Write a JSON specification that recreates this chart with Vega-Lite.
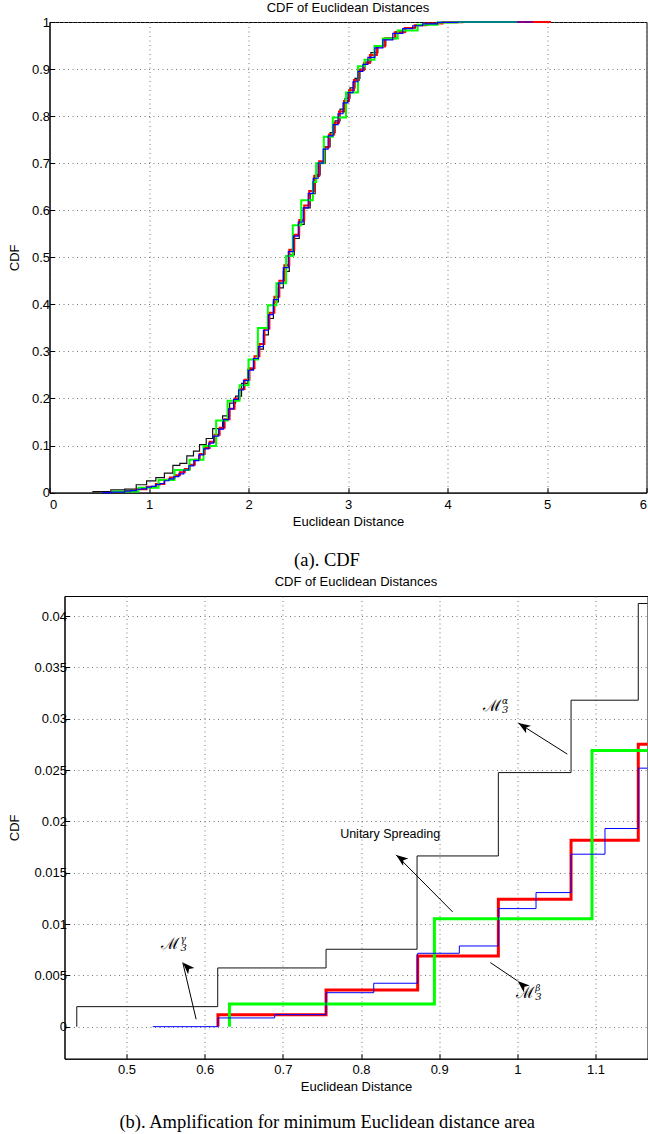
{
  "$schema": "https://vega.github.io/schema/vega-lite/v6.json",
  "background": "white",
  "padding": {"left": 6.5, "top": 1, "right": 0, "bottom": 0},
  "spacing": 5,
  "columns": 1,
  "align": "none",
  "datasets": {
    "cdf": [
      {"s": "alpha", "x": 0.4364, "y": 0},
      {"s": "alpha", "x": 0.4364, "y": 0.00195},
      {"s": "alpha", "x": 0.6167, "y": 0.00572},
      {"s": "alpha", "x": 0.7553, "y": 0.00754},
      {"s": "alpha", "x": 0.8717, "y": 0.01663},
      {"s": "alpha", "x": 0.9757, "y": 0.02475},
      {"s": "alpha", "x": 1.0687, "y": 0.0318},
      {"s": "alpha", "x": 1.1547, "y": 0.04122},
      {"s": "alpha", "x": 1.24, "y": 0.058},
      {"s": "alpha", "x": 1.31, "y": 0.062},
      {"s": "alpha", "x": 1.38, "y": 0.078},
      {"s": "alpha", "x": 1.447, "y": 0.088},
      {"s": "alpha", "x": 1.508, "y": 0.102},
      {"s": "alpha", "x": 1.575, "y": 0.115},
      {"s": "alpha", "x": 1.64, "y": 0.136},
      {"s": "alpha", "x": 1.74, "y": 0.163},
      {"s": "alpha", "x": 1.81, "y": 0.19},
      {"s": "alpha", "x": 1.87, "y": 0.205},
      {"s": "alpha", "x": 1.93, "y": 0.232},
      {"s": "alpha", "x": 1.993, "y": 0.262},
      {"s": "alpha", "x": 2.05, "y": 0.283},
      {"s": "alpha", "x": 2.1, "y": 0.305},
      {"s": "alpha", "x": 2.15, "y": 0.335},
      {"s": "alpha", "x": 2.2, "y": 0.37},
      {"s": "alpha", "x": 2.25, "y": 0.405},
      {"s": "alpha", "x": 2.3, "y": 0.435},
      {"s": "alpha", "x": 2.35, "y": 0.47},
      {"s": "alpha", "x": 2.41, "y": 0.505},
      {"s": "alpha", "x": 2.46, "y": 0.54},
      {"s": "alpha", "x": 2.51, "y": 0.57},
      {"s": "alpha", "x": 2.56, "y": 0.605},
      {"s": "alpha", "x": 2.62, "y": 0.635},
      {"s": "alpha", "x": 2.67, "y": 0.675},
      {"s": "alpha", "x": 2.72, "y": 0.7},
      {"s": "alpha", "x": 2.77, "y": 0.735},
      {"s": "alpha", "x": 2.82, "y": 0.765},
      {"s": "alpha", "x": 2.87, "y": 0.79},
      {"s": "alpha", "x": 2.92, "y": 0.815},
      {"s": "alpha", "x": 2.97, "y": 0.838},
      {"s": "alpha", "x": 3.02, "y": 0.86},
      {"s": "alpha", "x": 3.07, "y": 0.88},
      {"s": "alpha", "x": 3.12, "y": 0.9},
      {"s": "alpha", "x": 3.17, "y": 0.915},
      {"s": "alpha", "x": 3.23, "y": 0.935},
      {"s": "alpha", "x": 3.3, "y": 0.95},
      {"s": "alpha", "x": 3.38, "y": 0.966},
      {"s": "alpha", "x": 3.48, "y": 0.979},
      {"s": "alpha", "x": 3.58, "y": 0.988},
      {"s": "alpha", "x": 3.68, "y": 0.993},
      {"s": "alpha", "x": 3.8, "y": 0.997},
      {"s": "alpha", "x": 3.95, "y": 0.9995},
      {"s": "alpha", "x": 4.15, "y": 1.0},
      {"s": "alpha", "x": 4.6, "y": 1.0},

      {"s": "beta", "x": 0.617, "y": 0},
      {"s": "beta", "x": 0.617, "y": 0.00117},
      {"s": "beta", "x": 0.7553, "y": 0.00357},
      {"s": "beta", "x": 0.8725, "y": 0.00689},
      {"s": "beta", "x": 0.9757, "y": 0.01241},
      {"s": "beta", "x": 1.0687, "y": 0.01816},
      {"s": "beta", "x": 1.1547, "y": 0.02752},
      {"s": "beta", "x": 1.21, "y": 0.032},
      {"s": "beta", "x": 1.26, "y": 0.037},
      {"s": "beta", "x": 1.31, "y": 0.043},
      {"s": "beta", "x": 1.36, "y": 0.05},
      {"s": "beta", "x": 1.41, "y": 0.059},
      {"s": "beta", "x": 1.46, "y": 0.07},
      {"s": "beta", "x": 1.51, "y": 0.082},
      {"s": "beta", "x": 1.56, "y": 0.095},
      {"s": "beta", "x": 1.61, "y": 0.108},
      {"s": "beta", "x": 1.66, "y": 0.123},
      {"s": "beta", "x": 1.71, "y": 0.138},
      {"s": "beta", "x": 1.76, "y": 0.156},
      {"s": "beta", "x": 1.81, "y": 0.178},
      {"s": "beta", "x": 1.86, "y": 0.2},
      {"s": "beta", "x": 1.91, "y": 0.22},
      {"s": "beta", "x": 1.96, "y": 0.24},
      {"s": "beta", "x": 2.01, "y": 0.264},
      {"s": "beta", "x": 2.06, "y": 0.29},
      {"s": "beta", "x": 2.11, "y": 0.316},
      {"s": "beta", "x": 2.16, "y": 0.348},
      {"s": "beta", "x": 2.21, "y": 0.382},
      {"s": "beta", "x": 2.26, "y": 0.416},
      {"s": "beta", "x": 2.31, "y": 0.45},
      {"s": "beta", "x": 2.36, "y": 0.483},
      {"s": "beta", "x": 2.41, "y": 0.516},
      {"s": "beta", "x": 2.46, "y": 0.548},
      {"s": "beta", "x": 2.51, "y": 0.579},
      {"s": "beta", "x": 2.56, "y": 0.61},
      {"s": "beta", "x": 2.61, "y": 0.641},
      {"s": "beta", "x": 2.66, "y": 0.673},
      {"s": "beta", "x": 2.71, "y": 0.704},
      {"s": "beta", "x": 2.76, "y": 0.734},
      {"s": "beta", "x": 2.81, "y": 0.761},
      {"s": "beta", "x": 2.86, "y": 0.786},
      {"s": "beta", "x": 2.91, "y": 0.81},
      {"s": "beta", "x": 2.96, "y": 0.832},
      {"s": "beta", "x": 3.01, "y": 0.855},
      {"s": "beta", "x": 3.06, "y": 0.877},
      {"s": "beta", "x": 3.11, "y": 0.898},
      {"s": "beta", "x": 3.16, "y": 0.913},
      {"s": "beta", "x": 3.22, "y": 0.93},
      {"s": "beta", "x": 3.29, "y": 0.948},
      {"s": "beta", "x": 3.37, "y": 0.965},
      {"s": "beta", "x": 3.47, "y": 0.978},
      {"s": "beta", "x": 3.57, "y": 0.987},
      {"s": "beta", "x": 3.67, "y": 0.993},
      {"s": "beta", "x": 3.78, "y": 0.997},
      {"s": "beta", "x": 3.95, "y": 0.9995},
      {"s": "beta", "x": 4.15, "y": 1.0},
      {"s": "beta", "x": 5.04, "y": 1.0},

      {"s": "unitary", "x": 0.6317, "y": 0},
      {"s": "unitary", "x": 0.6317, "y": 0.0022},
      {"s": "unitary", "x": 0.8939, "y": 0.0105},
      {"s": "unitary", "x": 1.0955, "y": 0.0269},
      {"s": "unitary", "x": 1.256, "y": 0.048},
      {"s": "unitary", "x": 1.407, "y": 0.07},
      {"s": "unitary", "x": 1.548, "y": 0.099},
      {"s": "unitary", "x": 1.675, "y": 0.153},
      {"s": "unitary", "x": 1.79, "y": 0.195},
      {"s": "unitary", "x": 1.91, "y": 0.228},
      {"s": "unitary", "x": 2.0, "y": 0.283},
      {"s": "unitary", "x": 2.094, "y": 0.35},
      {"s": "unitary", "x": 2.194, "y": 0.398},
      {"s": "unitary", "x": 2.28, "y": 0.445},
      {"s": "unitary", "x": 2.378, "y": 0.503},
      {"s": "unitary", "x": 2.445, "y": 0.568},
      {"s": "unitary", "x": 2.53, "y": 0.621},
      {"s": "unitary", "x": 2.647, "y": 0.66},
      {"s": "unitary", "x": 2.68, "y": 0.7},
      {"s": "unitary", "x": 2.757, "y": 0.756},
      {"s": "unitary", "x": 2.847, "y": 0.797},
      {"s": "unitary", "x": 2.98, "y": 0.85},
      {"s": "unitary", "x": 3.1, "y": 0.906},
      {"s": "unitary", "x": 3.166, "y": 0.92},
      {"s": "unitary", "x": 3.266, "y": 0.949},
      {"s": "unitary", "x": 3.35, "y": 0.965},
      {"s": "unitary", "x": 3.5, "y": 0.982},
      {"s": "unitary", "x": 3.7, "y": 0.994},
      {"s": "unitary", "x": 3.9, "y": 0.999},
      {"s": "unitary", "x": 4.1, "y": 1.0},
      {"s": "unitary", "x": 4.7, "y": 1.0},

      {"s": "gamma", "x": 0.5336, "y": 0},
      {"s": "gamma", "x": 0.617, "y": 0.00085},
      {"s": "gamma", "x": 0.6896, "y": 0.00117},
      {"s": "gamma", "x": 0.7553, "y": 0.00331},
      {"s": "gamma", "x": 0.8163, "y": 0.00423},
      {"s": "gamma", "x": 0.8725, "y": 0.00715},
      {"s": "gamma", "x": 0.9258, "y": 0.00786},
      {"s": "gamma", "x": 0.9757, "y": 0.0115},
      {"s": "gamma", "x": 1.0239, "y": 0.01306},
      {"s": "gamma", "x": 1.0687, "y": 0.0168},
      {"s": "gamma", "x": 1.1121, "y": 0.0193},
      {"s": "gamma", "x": 1.1547, "y": 0.02518},
      {"s": "gamma", "x": 1.2, "y": 0.029},
      {"s": "gamma", "x": 1.25, "y": 0.034},
      {"s": "gamma", "x": 1.3, "y": 0.04},
      {"s": "gamma", "x": 1.35, "y": 0.048},
      {"s": "gamma", "x": 1.4, "y": 0.057},
      {"s": "gamma", "x": 1.45, "y": 0.068},
      {"s": "gamma", "x": 1.5, "y": 0.08},
      {"s": "gamma", "x": 1.55, "y": 0.093},
      {"s": "gamma", "x": 1.6, "y": 0.105},
      {"s": "gamma", "x": 1.65, "y": 0.12},
      {"s": "gamma", "x": 1.7, "y": 0.135},
      {"s": "gamma", "x": 1.75, "y": 0.155},
      {"s": "gamma", "x": 1.8, "y": 0.178},
      {"s": "gamma", "x": 1.85, "y": 0.198},
      {"s": "gamma", "x": 1.9, "y": 0.218},
      {"s": "gamma", "x": 1.95, "y": 0.238},
      {"s": "gamma", "x": 2.0, "y": 0.26},
      {"s": "gamma", "x": 2.05, "y": 0.285},
      {"s": "gamma", "x": 2.1, "y": 0.31},
      {"s": "gamma", "x": 2.15, "y": 0.345},
      {"s": "gamma", "x": 2.2, "y": 0.378},
      {"s": "gamma", "x": 2.25, "y": 0.41},
      {"s": "gamma", "x": 2.3, "y": 0.445},
      {"s": "gamma", "x": 2.35, "y": 0.478},
      {"s": "gamma", "x": 2.4, "y": 0.512},
      {"s": "gamma", "x": 2.45, "y": 0.545},
      {"s": "gamma", "x": 2.5, "y": 0.575},
      {"s": "gamma", "x": 2.55, "y": 0.605},
      {"s": "gamma", "x": 2.6, "y": 0.636},
      {"s": "gamma", "x": 2.65, "y": 0.668},
      {"s": "gamma", "x": 2.7, "y": 0.7},
      {"s": "gamma", "x": 2.75, "y": 0.73},
      {"s": "gamma", "x": 2.8, "y": 0.758},
      {"s": "gamma", "x": 2.85, "y": 0.782},
      {"s": "gamma", "x": 2.9, "y": 0.805},
      {"s": "gamma", "x": 2.95, "y": 0.828},
      {"s": "gamma", "x": 3.0, "y": 0.85},
      {"s": "gamma", "x": 3.05, "y": 0.873},
      {"s": "gamma", "x": 3.1, "y": 0.895},
      {"s": "gamma", "x": 3.15, "y": 0.91},
      {"s": "gamma", "x": 3.2, "y": 0.925},
      {"s": "gamma", "x": 3.27, "y": 0.945},
      {"s": "gamma", "x": 3.35, "y": 0.962},
      {"s": "gamma", "x": 3.45, "y": 0.976},
      {"s": "gamma", "x": 3.55, "y": 0.986},
      {"s": "gamma", "x": 3.65, "y": 0.992},
      {"s": "gamma", "x": 3.75, "y": 0.996},
      {"s": "gamma", "x": 3.9, "y": 0.999},
      {"s": "gamma", "x": 4.1, "y": 1.0},
      {"s": "gamma", "x": 4.86, "y": 1.0}
    ],
    "symbols": [
      {"k": "alpha", "x": 0.9791, "y": 0.03125, "t": "ℳ", "sup": "α", "sub": "3"},
      {"k": "beta", "x": 1.0217, "y": 0.003235, "t": "ℳ", "sup": "β", "sub": "3"},
      {"k": "gamma", "x": 0.5678, "y": 0.00803, "t": "ℳ", "sup": "γ", "sub": "3"}
    ],
    "labels": [
      {"x": 0.8373, "y": 0.01881, "t": "Unitary Spreading"}
    ],
    "arrows": [
      {"k": "alpha", "x": 1.0013, "y": 0.02957, "xt": 1.0639, "yt": 0.02655},
      {"k": "unitary", "x": 0.8449, "y": 0.01673, "xt": 0.9172, "yt": 0.01118},
      {"k": "beta", "x": 1.0004, "y": 0.00445, "xt": 0.9655, "yt": 0.00624},
      {"k": "gamma", "x": 0.572, "y": 0.00624, "xt": 0.5891, "yt": 0.00072}
    ],
    "none": []
  },
  "concat": [
    {
      "title": {"text": "(a). CDF", "orient": "bottom", "font": "Liberation Serif", "fontSize": 18.5, "fontWeight": "normal", "offset": 22, "anchor": "middle"},
      "spacing": 0,
      "hconcat": [
        {
          "width": 1, "height": 1,
          "data": {"name": "none"},
          "mark": {"type": "point", "opacity": 0},
          "view": {"stroke": null}
        },
        {
          "width": 597,
          "height": 470.6,
          "title": {"text": "CDF of Euclidean Distances", "offset": 1},
          "encoding": {
            "x": {"field": "x", "type": "quantitative", "scale": {"domain": [0, 6], "nice": false, "zero": false},
                  "axis": {"values": [0, 1, 2, 3, 4, 5, 6], "format": "~g", "title": "Euclidean Distance", "labelPadding": 10.5, "titlePadding": 4}},
            "y": {"field": "y", "type": "quantitative", "scale": {"domain": [0, 1], "nice": false, "zero": false},
                  "axis": {"values": [0, 0.1, 0.2, 0.3, 0.4, 0.5, 0.6, 0.7, 0.8, 0.9, 1], "format": "~g", "title": "CDF", "labelPadding": 5, "titlePadding": 9.5, "minExtent": 0}}
          },
          "layer": [
            {"data": {"name": "cdf"}, "transform": [{"filter": "datum.s === 'alpha'"}],
             "mark": {"type": "line", "interpolate": "step-after", "color": "#111111", "strokeWidth": 1.2},
             "encoding": {"order": {"value": null}}},
            {"data": {"name": "cdf"}, "transform": [{"filter": "datum.s === 'beta'"}],
             "mark": {"type": "line", "interpolate": "step-after", "color": "#ff0000", "strokeWidth": 2},
             "encoding": {"order": {"value": null}}},
            {"data": {"name": "cdf"}, "transform": [{"filter": "datum.s === 'unitary'"}],
             "mark": {"type": "line", "interpolate": "step-after", "color": "#00ff00", "strokeWidth": 2},
             "encoding": {"order": {"value": null}}},
            {"data": {"name": "cdf"}, "transform": [{"filter": "datum.s === 'gamma'"}],
             "mark": {"type": "line", "interpolate": "step-after", "color": "#0000ff", "strokeWidth": 1.2},
             "encoding": {"order": {"value": null}}}
          ]
        }
      ]
    },
    {
      "title": {"text": "(b). Amplification for minimum Euclidean distance area", "orient": "bottom", "font": "Liberation Serif", "fontSize": 18.5, "fontWeight": "normal", "offset": 19, "anchor": "middle"},
      "spacing": 0,
      "hconcat": [
        {
          "width": 1, "height": 1,
          "data": {"name": "none"},
          "mark": {"type": "point", "opacity": 0},
          "view": {"stroke": null}
        },
        {
          "width": 583,
          "height": 462.7,
          "title": {"text": "CDF of Euclidean Distances", "offset": 7},
          "encoding": {
            "x": {"field": "x", "type": "quantitative", "scale": {"domain": [0.4207, 1.1665], "nice": false, "zero": false},
                  "axis": {"values": [0.5, 0.6, 0.7, 0.8, 0.9, 1, 1.1], "format": "~g", "title": "Euclidean Distance", "labelPadding": 9.5, "titlePadding": 4}},
            "y": {"field": "y", "type": "quantitative", "scale": {"domain": [-0.00312, 0.04195], "nice": false, "zero": false},
                  "axis": {"values": [0, 0.005, 0.01, 0.015, 0.02, 0.025, 0.03, 0.035, 0.04], "format": "~g", "title": "CDF", "labelPadding": 3, "titlePadding": 12, "minExtent": 0}}
          },
          "layer": [
            {"data": {"name": "cdf"}, "transform": [{"filter": "datum.s === 'alpha'"}],
             "mark": {"type": "line", "interpolate": "step-after", "color": "#111111", "strokeWidth": 1, "clip": true},
             "encoding": {"order": {"value": null}}},
            {"data": {"name": "cdf"}, "transform": [{"filter": "datum.s === 'beta'"}],
             "mark": {"type": "line", "interpolate": "step-after", "color": "#ff0000", "strokeWidth": 3, "clip": true},
             "encoding": {"order": {"value": null}}},
            {"data": {"name": "cdf"}, "transform": [{"filter": "datum.s === 'unitary'"}],
             "mark": {"type": "line", "interpolate": "step-after", "color": "#00ff00", "strokeWidth": 3, "clip": true},
             "encoding": {"order": {"value": null}}},
            {"data": {"name": "cdf"}, "transform": [{"filter": "datum.s === 'gamma'"}],
             "mark": {"type": "line", "interpolate": "step-after", "color": "#0000ff", "strokeWidth": 1, "clip": true},
             "encoding": {"order": {"value": null}}},
            {"data": {"name": "arrows"},
             "mark": {"type": "rule", "color": "black", "strokeWidth": 1},
             "encoding": {"x2": {"field": "xt"}, "y2": {"field": "yt"}}},
            {"data": {"name": "arrows"},
             "mark": {"type": "point", "shape": "M0,0L0.45,1.2L0,0.9L-0.45,1.2Z", "filled": true, "color": "black", "opacity": 1, "size": 400, "strokeWidth": 0},
             "encoding": {"angle": {"field": "k", "type": "nominal", "scale": {"domain": ["alpha", "unitary", "beta", "gamma"], "range": [302, 315, 123.8, 346.7]}, "legend": null}}},
            {"data": {"name": "labels"},
             "mark": {"type": "text", "font": "Liberation Sans", "fontSize": 12.5, "color": "black", "align": "center", "baseline": "middle"},
             "encoding": {"text": {"field": "t"}}},
            {"data": {"name": "symbols"},
             "mark": {"type": "text", "font": "DejaVu Serif", "fontSize": 16, "color": "black", "align": "right", "baseline": "middle"},
             "encoding": {"text": {"field": "t"}}},
            {"data": {"name": "symbols"},
             "mark": {"type": "text", "font": "DejaVu Serif", "fontStyle": "italic", "fontSize": 9, "color": "black", "align": "left", "baseline": "middle", "dx": 1, "dy": -5},
             "encoding": {"text": {"field": "sup"}}},
            {"data": {"name": "symbols"},
             "mark": {"type": "text", "font": "DejaVu Serif", "fontStyle": "italic", "fontSize": 10, "color": "black", "align": "left", "baseline": "middle", "dx": 1, "dy": 4},
             "encoding": {"text": {"field": "sub"}}}
          ]
        }
      ]
    }
  ],
  "config": {
    "view": {"stroke": "black", "strokeWidth": 1},
    "title": {"font": "Liberation Sans", "fontSize": 13, "fontWeight": "normal", "color": "black", "anchor": "middle"},
    "axis": {
      "domainColor": "black", "domainWidth": 1,
      "tickColor": "black", "tickSize": -5, "tickWidth": 1,
      "labelFont": "Liberation Sans", "labelFontSize": 13, "labelColor": "black",
      "titleFont": "Liberation Sans", "titleFontSize": 13, "titleFontWeight": "normal", "titleColor": "black",
      "grid": true, "gridColor": "#666666", "gridDash": [1, 3.5], "gridWidth": 0.9, "gridOpacity": 1
    }
  }
}
